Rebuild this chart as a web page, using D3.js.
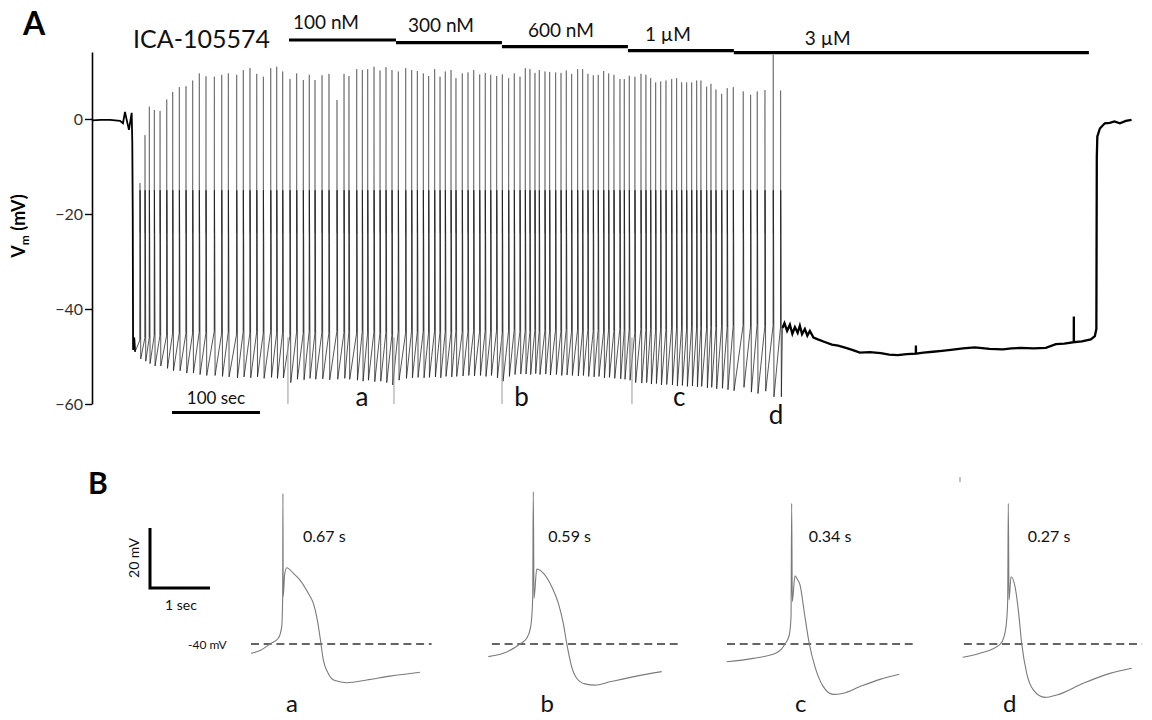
<!DOCTYPE html>
<html><head><meta charset="utf-8">
<script src="https://cdn.jsdelivr.net/npm/d3@7"></script>
<style>
body{margin:0;background:#fff}
svg{display:block}
text{font-family:Lato,"Open Sans",sans-serif}
</style>
</head><body>
<svg id="chart" width="1152" height="720"></svg>
<script>
// ---------------- DATA ----------------
// Panel A: spike train (time in s, voltage in mV)
const spikeTimes = [54.5,60.2,65.1,70.8,77.3,84.9,91.7,99.2,106.8,114.4,121.9,129.5,139.0,147.4,154.9,164.4,171.9,179.5,187.2,194.7,203.1,209.9,216.7,225.0,232.6,240.1,246.9,253.4,261.4,269.3,278.4,
286.4,292.0,300.8,307.2,313.3,320.5,327.3,334.1,340.9,348.1,356.5,363.3,369.7,376.5,382.6,389.4,395.5,401.5,408.0,413.6,420.8,427.3,433.8,440.6,446.9,453.1,459.9,466.3,473.5,479.9,486.4,492.4,497.7,503.4,508.3,514.8,520.1,526.9,533.0,539.0,545.1,551.9,557.6,563.6,569.7,575.3,581.5,587.2,593.2,600.0,604.9,610.6,617.0,623.9,629.5,634.9,640.6,646.3,652.3,658.8,664.4,670.1,675.8,681.5,687.2,692.0,698.5,703.4,709.1,715.6,721.9,728.8,740.1,748.5,756.0,764.8,774.2,782.6];
const spikePeaks = [-13.5,-3.4,2.6,1.9,1.7,4.1,5.7,6.7,6.9,8.1,9.6,9.0,8.9,9.3,9.6,9.3,10.3,10.7,9.5,8.9,10.7,11.0,10.0,8.4,9.6,8.2,9.3,8.2,9.2,9.5,4.0,
9.5,9.05,10.5,10.3,10.5,11.0,10.2,10.9,10.3,10.0,10.7,10.3,10.1,9.6,9.05,10.5,8.9,10.0,10.3,8.6,9.6,9.8,10.3,9.4,9.7,9.3,9.05,9.4,8.6,9.6,8.9,10.7,10.5,9.7,10.3,10.0,9.9,9.8,9.7,10.2,9.5,10.5,10.5,9.5,9.2,9.3,10.1,9.6,9.3,8.4,8.4,9.1,8.9,9.5,9.3,8.6,7.7,7.9,8.1,8.4,8.6,7.7,7.7,7.7,8.1,8.1,6.8,7.4,6.2,5.3,6.5,6.7,5.8,5.1,5.8,6.1,13.5,6.0];
const spikeTroughs = [-50.5,-51,-51.5,-52,-52,-52.5,-53,-53,-53.5,-53.5,-53.8,-54,-54,-54.2,-54.3,-54.5,-54.3,-54.5,-54.3,-54.6,-54.4,-54.6,-54.5,-55.5,-54.8,-54.9,-54.6,-54.8,-54.7,-54.9,-54.8,
-54.6,-54.8,-55,-55.2,-55,-55.3,-55.2,-55.5,-56,-55,-54.6,-54.5,-54.4,-54.5,-54.4,-54.3,-54.5,-54.2,-54.3,-54.2,-54.1,-54,-54.1,-54,-54.2,-54,-54.5,-55.2,-54.2,-53.8,-53.7,-53.7,-53.8,-53.6,-53.8,-53.7,-53.9,-53.8,-54,-53.9,-54,-54.1,-54,-54.2,-54.3,-54.2,-54.5,-54.4,-54.6,-54.7,-54.8,-55,-55.5,-55.6,-55.5,-55.8,-55.7,-56,-55.9,-56,-56.2,-56.1,-56.3,-56.2,-56.4,-56.3,-56.6,-56.5,-56.8,-56.7,-57,-57.2,-56.5,-57.5,-57.8,-57.3,-58.5,-58.5];
const spikeThresholds = [-46.5,-46,-46,-45.5,-45.5,-45.5,-45,-45,-45,-45,
-44.8,-45,-44.6,-45,-44.8,-45.2,-44.7,-45,-44.8,-45,
-44.6,-45,-44.8,-45.5,-44.7,-45,-44.6,-45,-44.8,-45,
-44.6,-44.9,-44.7,-45,-44.6,-44.9,-44.7,-45,-44.8,-45.4,
-44.6,-44.9,-44.5,-44.8,-44.6,-44.9,-44.5,-44.8,-44.6,-44.9,
-44.5,-44.8,-44.6,-44.4,-44.7,-44.5,-44.8,-44.4,-45,-44.5,
-44.3,-44.6,-44.4,-44.7,-44.3,-44.6,-44.4,-44.7,-44.3,-44.6,
-44.2,-44.5,-44.3,-44.6,-44.2,-44.5,-44.3,-44.6,-44.2,-44.5,
-44.1,-44.4,-44.2,-44.8,-44,-44.3,-44.1,-44.4,-44,-44.3,
-43.8,-44.1,-43.9,-44.2,-43.7,-44,-43.8,-44.1,-43.6,-43.9,
-43.5,-43.8,-43.4,-43.3,-43.6,-43.2,-43.5,-43.3,-43.6];
const plateauShape = [[0.15,-15],[0.5,-26]];
// quiet baseline before firing
const preTrace = [[0,-0.3],[10,-0.2],[20.5,-0.2],[31.8,-0.4],[35.2,-0.9],[37.5,1.5],[39.8,-0.5],[42,-2.3],[45.1,1.3],[45.8,-5],[46.3,-20],[46.7,-48.6],[48,-46],[49,-49]];
// trace after firing stops and wash-out
const postTrace = [[784.7,-44],[787,-43],[790,-44.6],[793.2,-43.3],[796,-45.2],[798.9,-43.8],[802,-45],[804.5,-43.5],[807,-45.3],[810.2,-44.2],[813,-45.6],[815.9,-44.6],[820,-46],[825,-46.4],[832,-46.9],[840.9,-47.5],[848,-47.7],[856.8,-48.2],[864,-48.6],[872.7,-49.2],[884,-49.1],[896.6,-49.3],[906,-49.6],[915.9,-49.7],[926,-49.5],[936.3,-49.4],[936.4,-47.7],[936.5,-49.4],[945,-49.2],[955.7,-49.0],[966,-48.8],[976.1,-48.6],[990,-48.3],[1003.4,-48.1],[1020,-48.4],[1035.2,-48.5],[1045,-48.3],[1055.7,-48.2],[1070,-48.3],[1084.1,-48.2],[1095.5,-47.4],[1105,-47.3],[1115.8,-47.0],[1115.9,-41.6],[1116,-47.0],[1125,-46.8],[1135.2,-46.4],[1139.8,-45.7],[1141.5,-44.2],[1142,-8],[1142.6,-3.7],[1145.5,-2.0],[1151.1,-0.9],[1156.8,-0.8],[1162,-0.5],[1168.2,-0.9],[1175,-0.4],[1181.5,-0.2]];
// solution-exchange artifacts (time s, lowest mV)
const artifactTimes = [222.7,343.2,466.0,613.7];
const artifactMin = [-60,-60,-60,-60];
// drug application
const drugName = "ICA-105574";
const drugLabels = ["100 nM","300 nM","600 nM","1 µM","3 µM"];
const drugStart = [223.9,345.5,465.9,609.1,729.5];
const drugEnd = [345.5,465.9,609.1,729.5,1133];
const yTicks = [0,-20,-40,-60];
const sampleLetters = ["a","b","c","d"];
const sampleTimes = [306.8,488.3,667.4,777.3];
// Panel B: single action potentials (time from trace start s, mV)
const apA = [[0,-43.1],[0.15,-42.2],[0.317,-40],[0.455,-38.1],[0.512,-34.2],[0.528,-24.2],[0.532,10.2],[0.537,-24.2],[0.56,-17],[0.595,-14.6],[0.705,-16.4],[0.817,-18.7],[0.955,-23.1],[1.038,-26.4],[1.095,-30.9],[1.15,-37.6],[1.205,-45.3],[1.288,-49.8],[1.4,-52.2],[1.595,-52.9],[1.928,-52],[2.317,-50.7],[2.817,-49.4]];
const apB = [[0,-44.2],[0.25,-43.1],[0.528,-40],[0.64,-38.1],[0.707,-34.2],[0.74,-24.8],[0.75,10.8],[0.762,-24.8],[0.807,-15],[0.917,-16.4],[1.057,-20.9],[1.167,-26.4],[1.25,-33.1],[1.307,-39.8],[1.39,-47.6],[1.473,-51.4],[1.612,-53.3],[1.778,-53.7],[2.028,-52.6],[2.473,-50.7],[2.89,-49.2]];
const apC = [[0,-45.9],[0.443,-44.8],[0.833,-42.9],[0.972,-40],[1.043,-37],[1.072,-30.9],[1.083,6.9],[1.093,-25.9],[1.138,-17.3],[1.18,-18.5],[1.222,-20.3],[1.297,-30],[1.377,-40],[1.472,-47.6],[1.61,-54.2],[1.777,-56.8],[1.943,-56.4],[2.222,-54.2],[2.555,-51.8],[2.877,-50.1]];
const apD = [[0,-44.4],[0.288,-43.1],[0.622,-40.1],[0.688,-37.6],[0.733,-32],[0.75,-25.3],[0.76,6.9],[0.772,-25.3],[0.805,-17.6],[0.872,-20.9],[0.927,-28.7],[0.983,-39.8],[1.067,-49.8],[1.177,-55.3],[1.372,-57.8],[1.567,-57],[2.01,-53.1],[2.455,-49.8],[2.817,-48.1]];
const apDMark = [[-0.045,14],[-0.045,15.7]];
const apDurations = ["0.67 s","0.59 s","0.34 s","0.27 s"];
const dashRanges = [[0,3.01],[0.06,3.16],[0.005,3.1],[0.02,2.99]];
const refLevel = -40;
const scaleBarSec = 1, scaleBarMv = 20, scaleBarA = 100;

// ---------------- LAYOUT ----------------
const svg = d3.select("#chart");
const xA = d3.scaleLinear().domain([0,1182]).range([92,1132]);
const yA = d3.scaleLinear().domain([-60,14.1]).range([404,52]);
const lineA = d3.line().x(d=>xA(d[0])).y(d=>yA(d[1]));

// panel labels
svg.append("text").attr("x",23).attr("y",35).attr("font-family","'Liberation Sans',Arial,sans-serif").attr("font-weight","bold").attr("font-size",32).text("A");
svg.append("text").attr("x",88).attr("y",494).attr("font-family","'Liberation Sans',Arial,sans-serif").attr("font-weight","bold").attr("font-size",30).text("B");

// y axis
const yAxis = d3.axisLeft(yA).tickValues(yTicks).tickSize(7).tickSizeOuter(0).tickPadding(2).tickFormat(d3.format("d"));
const gy = svg.append("g").attr("transform","translate(92,0)").call(yAxis);
gy.select(".domain").attr("stroke","#000").attr("stroke-width",1.6);
gy.selectAll(".tick line").attr("stroke","#000").attr("stroke-width",1.4);
gy.selectAll(".tick text").attr("font-family","Lato,sans-serif").attr("font-size",16).attr("fill","#333");

const ylab = svg.append("text").attr("transform","translate(25,226) rotate(-90)").attr("text-anchor","middle")
  .attr("font-weight","bold").attr("font-size",18);
ylab.append("tspan").text("V");
ylab.append("tspan").attr("font-size",12).attr("dy",4).text("m");
ylab.append("tspan").attr("dy",-4).text(" (mV)");

// drug bars
const barY = [40,42.7,46.7,50.7,52.7];
const labelDx = [4,12,26,17,71];
const labelY = [28.5,32,37,40.5,45];
svg.append("text").attr("x",133).attr("y",48).attr("font-size",25).attr("fill","#111").text(drugName);
drugLabels.forEach((lab,i)=>{
  svg.append("line").attr("x1",xA(drugStart[i])).attr("x2",xA(drugEnd[i])).attr("y1",barY[i]).attr("y2",barY[i])
    .attr("stroke","#000").attr("stroke-width",3.2);
  svg.append("text").attr("x",xA(drugStart[i])+labelDx[i]).attr("y",labelY[i]).attr("font-size",19).attr("fill","#111").text(lab);
});

// pre / post traces (thick, noisy)
svg.append("path").attr("d",lineA(preTrace)).attr("fill","none").attr("stroke","#000").attr("stroke-width",1.8);
svg.append("path").attr("d",lineA(postTrace)).attr("fill","none").attr("stroke","#000").attr("stroke-width",2.3);

// spike train body (plateau, repolarisation, interspike ramp)
const body = [preTrace[preTrace.length-1]];
spikeTimes.forEach((t,i)=>{
  body.push([t,spikeThresholds[i]]);
  plateauShape.forEach(p=>body.push([t+p[0],p[1]]));
  body.push([t+0.9,spikeTroughs[i]]);
});
body.push(postTrace[0]);
svg.append("path").attr("d",lineA(body)).attr("fill","none").attr("stroke","#111").attr("stroke-width",0.95).attr("stroke-opacity",0.75);
// upstrokes
const upD = spikeTimes.map((t,i)=>lineA([[t,spikeThresholds[i]],[t+0.05,spikePeaks[i]],[t+0.1,-24]])).join("");
svg.append("path").attr("d",upD).attr("fill","none").attr("stroke","#222").attr("stroke-width",0.85).attr("stroke-opacity",0.55);
// artifacts
artifactTimes.forEach((t,i)=>{
  svg.append("line").attr("x1",xA(t)).attr("x2",xA(t)).attr("y1",yA(-46)).attr("y2",yA(artifactMin[i]))
    .attr("stroke","#999").attr("stroke-width",1);
});
// sample letters
sampleLetters.forEach((s,i)=>{
  svg.append("text").attr("x",xA(sampleTimes[i])).attr("y",i===3?424:406).attr("text-anchor","middle").attr("font-size",26).attr("fill","#111").text(s);
});
// 100 sec scale bar
const sbx = 172;
svg.append("line").attr("x1",sbx).attr("x2",sbx+xA(scaleBarA)-xA(0)).attr("y1",412.5).attr("y2",412.5).attr("stroke","#000").attr("stroke-width",3);
svg.append("text").attr("x",sbx+(xA(scaleBarA)-xA(0))/2).attr("y",404).attr("text-anchor","middle").attr("font-size",17).attr("fill","#111").text("100 sec");

// ---------------- PANEL B ----------------
const pxPerSec = 60;
const yB = d3.scaleLinear().domain([-40,-20]).range([644,584]);
const bX0 = [251,488.3,726.7,962.7];
const durDx = [52,60,82,65];
const letterDx = [41,59,74,47];
const aps = [apA,apB,apC,apD];
aps.forEach((ap,i)=>{
  const xB = d3.scaleLinear().domain([0,1]).range([bX0[i],bX0[i]+pxPerSec]);
  const lineB = d3.line().x(d=>xB(d[0])).y(d=>yB(d[1])).curve(d3.curveMonotoneX);
  svg.append("line").attr("x1",xB(dashRanges[i][0])).attr("x2",xB(dashRanges[i][1])).attr("y1",yB(refLevel)).attr("y2",yB(refLevel))
    .attr("stroke","#333").attr("stroke-width",1.3).attr("stroke-dasharray","8,4.7");
  svg.append("path").attr("d",lineB(ap)).attr("fill","none").attr("stroke","#7a7a7a").attr("stroke-width",1.1);
  if(i===3) svg.append("path").attr("d",d3.line().x(d=>xB(d[0])).y(d=>yB(d[1]))(apDMark)).attr("fill","none").attr("stroke","#999").attr("stroke-width",1.2);
  svg.append("text").attr("x",bX0[i]+durDx[i]).attr("y",542).attr("font-size",16).attr("fill","#111").text(apDurations[i]);
  svg.append("text").attr("x",bX0[i]+letterDx[i]).attr("y",712).attr("text-anchor","middle").attr("font-size",24).attr("fill","#111").text(sampleLetters[i]);
});
// scale bars B
const sbX = 150, sbY = 588;
svg.append("path").attr("d",`M${sbX},${sbY-(yB(-40)-yB(-40+scaleBarMv))}V${sbY}H${sbX+pxPerSec*scaleBarSec}`)
  .attr("fill","none").attr("stroke","#000").attr("stroke-width",3);
svg.append("text").attr("transform",`translate(139,${sbY-30}) rotate(-90)`).attr("text-anchor","middle").attr("font-size",14).attr("fill","#111").text("20 mV");
svg.append("text").attr("x",sbX+31).attr("y",610).attr("text-anchor","middle").attr("font-size",14).attr("fill","#111").text("1 sec");
svg.append("text").attr("x",188).attr("y",649).attr("font-size",12).attr("fill","#111").text("-40 mV");
</script>
</body></html>
